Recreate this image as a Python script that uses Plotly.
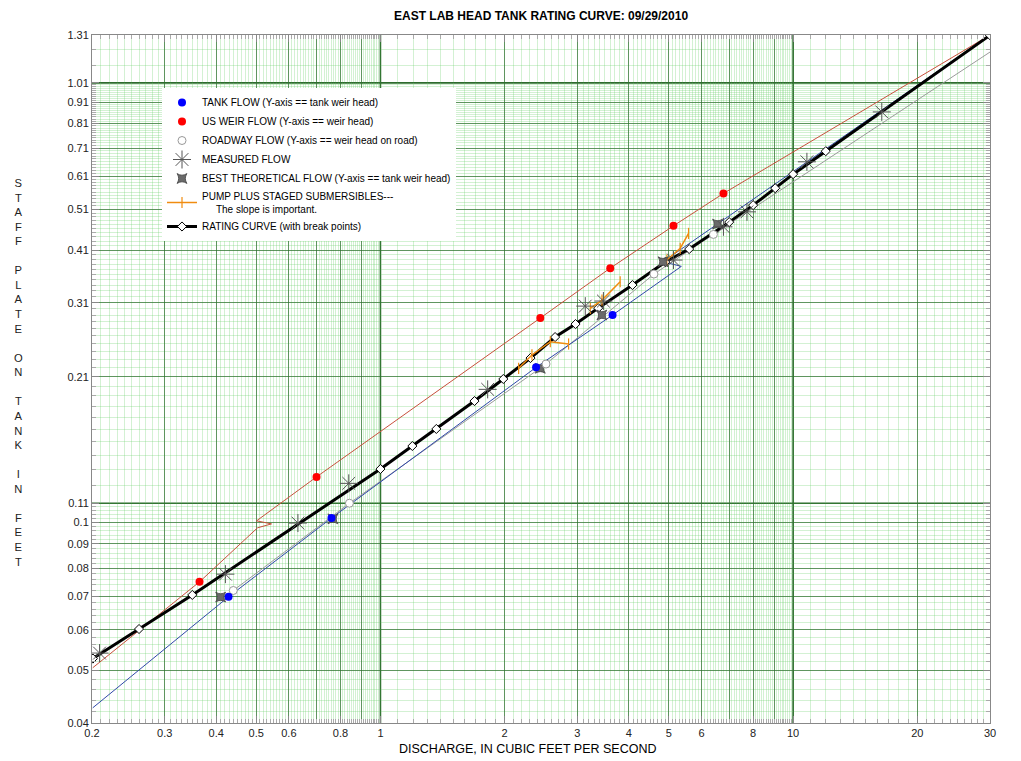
import numpy as np
import plotly.graph_objects as go

# Staff plate reading = head on weir + 0.01 ft (the y axis is log of head)
STAFF_OFFSET = 0.01

# ---------------- data (x: discharge cfs, y: staff plate ft) ----------------
rating_q = [0.201, 0.26, 0.35, 1.0, 1.195, 1.366, 1.69, 1.985, 2.31, 2.65, 2.97,
            3.37, 4.08, 4.9, 5.6, 7.0, 8.0, 9.05, 10.0, 12.0, 30.0]
rating_stage = [0.0527, 0.0602, 0.0705, 0.1306, 0.1468, 0.1602, 0.185, 0.2075,
                0.2315, 0.2585, 0.2768, 0.3012, 0.3404, 0.3848, 0.4124, 0.4764,
                0.5219, 0.5717, 0.6166, 0.698, 1.308]

tank_q = [0.4285, 0.761, 2.383, 3.652]
tank_stage = [0.0699, 0.1022, 0.2205, 0.2904]
tank_line_q = [0.2008, 0.4285, 0.761, 2.383, 3.652, 5.36, 4.84, 6.56, 30.0]
tank_line_stage = [0.0426, 0.0699, 0.1022, 0.2205, 0.2904, 0.376, 0.3854, 0.4714, 1.31]

weir_q = [0.3644, 0.70, 2.44, 3.605, 5.13, 6.78]
weir_stage = [0.075, 0.1255, 0.2858, 0.3725, 0.467, 0.5558]
weir_line_q = [0.2008, 0.3644, 0.5037, 0.5445, 0.501, 0.70, 2.44, 3.605, 5.13, 6.78, 30.0]
weir_line_stage = [0.0506, 0.075, 0.0974, 0.0993, 0.1008, 0.1255, 0.2858, 0.3725,
                   0.467, 0.5558, 1.31]

road_q = [0.44, 0.841, 2.519, 4.60, 6.41]
road_stage = [0.072, 0.11, 0.2244, 0.3609, 0.446]
road_line_q = [0.44, 0.841, 2.519, 4.60, 6.41, 30.0]
road_line_stage = [0.072, 0.11, 0.2244, 0.3609, 0.446, 1.194]

meas_q = [0.2086, 0.421, 0.631, 0.838, 1.819, 3.136, 3.47, 5.13, 6.78, 7.73, 10.8, 16.4]
meas_stage = [0.054, 0.0778, 0.0997, 0.1215, 0.1966, 0.3044, 0.3127, 0.3889, 0.4646,
              0.5034, 0.659, 0.863]

best_q = [0.41, 0.767, 2.44, 3.44, 4.84, 6.56]
best_stage = [0.0698, 0.1018, 0.2194, 0.2904, 0.3854, 0.4714]

pump_q = [2.162, 2.329, 2.580, 2.857, None, 3.225, 3.442, 3.81, None, 4.944, 5.326, 5.58]
pump_stage = [0.2194, 0.2353, 0.2522, 0.2492, None, 0.3008, 0.3143, 0.3464, None,
              0.3889, 0.414, 0.4484]

x_tick_vals = [0.2, 0.3, 0.4, 0.5, 0.6, 0.7, 0.8, 0.9, 1, 2, 3, 4, 5, 6, 7, 8, 9, 10, 20, 30]
x_tick_text = ["0.2", "0.3", "0.4", "0.5", "0.6", "", "0.8", "", "1", "2", "3", "4", "5",
               "6", "", "8", "", "10", "20", "30"]
y_tick_head = [0.03, 0.04, 0.05, 0.06, 0.07, 0.08, 0.09, 0.1, 0.2, 0.3, 0.4, 0.5, 0.6,
               0.7, 0.8, 0.9, 1.0, 1.3]
y_tick_text = ["0.04", "0.05", "0.06", "0.07", "0.08", "0.09", "0.1", "0.11", "0.21",
               "0.31", "0.41", "0.51", "0.61", "0.71", "0.81", "0.91", "1.01", "1.31"]


def head(vals):
    return [None if v is None else v - STAFF_OFFSET for v in vals]


# minor grid (graph-paper look)
minor_x = list(np.round(np.arange(0.2, 1.0, 0.01), 4)) + \
    list(np.round(np.arange(1.0, 10.0, 0.1), 3)) + list(np.arange(10.0, 30.5, 1.0))
minor_y = list(np.round(np.arange(0.03, 0.1, 0.002), 4)) + \
    list(np.round(np.arange(0.1, 1.0, 0.01), 4)) + [1.1, 1.2, 1.3]

FONT = "Arial, Liberation Sans, sans-serif"
MINOR_GRID = "rgba(110,210,110,0.30)"
MAJOR_GRID = "rgba(45,110,45,0.70)"

# page body has an 8 px margin: offsets below compensate
OFF = 8
PLOT_L, PLOT_T, PLOT_W, PLOT_H = 92, 35, 898, 688
FIG_W, FIG_H = 1005, 748

fig = go.Figure()

# connecting lines (not in legend)
fig.add_trace(go.Scatter(x=weir_line_q, y=head(weir_line_stage), mode="lines",
                         line=dict(color="#c8503c", width=1), showlegend=False,
                         hoverinfo="skip"))
fig.add_trace(go.Scatter(x=road_line_q, y=head(road_line_stage), mode="lines",
                         line=dict(color="#9a9a9a", width=1), showlegend=False,
                         hoverinfo="skip"))
fig.add_trace(go.Scatter(x=tank_line_q, y=head(tank_line_stage), mode="lines",
                         line=dict(color="#3048a8", width=1), showlegend=False,
                         hoverinfo="skip"))

fig.add_trace(go.Scatter(
    x=rating_q, y=head(rating_stage), mode="lines+markers",
    name="RATING CURVE (with break points)", legendrank=7,
    line=dict(color="black", width=3),
    marker=dict(symbol="diamond", size=7, color="white", line=dict(color="black", width=1))))

fig.add_trace(go.Scatter(
    x=pump_q, y=head(pump_stage), mode="lines+markers", connectgaps=False,
    name="PUMP PLUS STAGED SUBMERSIBLES---<br>&nbsp;&nbsp;&nbsp;&nbsp;&nbsp;The slope is important.",
    legendrank=6,
    line=dict(color="#f08c10", width=1.5),
    marker=dict(symbol="line-ns-open", size=8, line=dict(color="#f08c10", width=1.2))))

fig.add_trace(go.Scatter(
    x=best_q, y=head(best_stage), mode="markers",
    name="BEST THEORETICAL FLOW (Y-axis == tank weir head)", legendrank=5,
    marker=dict(symbol="star-square", size=9, color="#6a6a6a",
                line=dict(color="#444", width=0.8))))

fig.add_trace(go.Scatter(
    x=meas_q, y=head(meas_stage), mode="markers", name="MEASURED FLOW", legendrank=4,
    marker=dict(symbol="asterisk-open", size=15, color="#555",
                line=dict(color="#555", width=1))))

fig.add_trace(go.Scatter(
    x=road_q, y=head(road_stage), mode="markers",
    name="ROADWAY FLOW (Y-axis == weir head on road)", legendrank=3,
    marker=dict(symbol="circle", size=8, color="white", line=dict(color="#999", width=1))))

fig.add_trace(go.Scatter(
    x=weir_q, y=head(weir_stage), mode="markers",
    name="US WEIR FLOW (Y-axis == weir head)", legendrank=2,
    marker=dict(symbol="circle", size=8, color="#ff0000")))

fig.add_trace(go.Scatter(
    x=tank_q, y=head(tank_stage), mode="markers",
    name="TANK FLOW (Y-axis == tank weir head)", legendrank=1,
    marker=dict(symbol="circle", size=8, color="#0000ff")))

# heavy decade lines
shapes = []
for xv in [1, 10]:
    shapes.append(dict(type="line", xref="x", yref="paper", x0=xv, x1=xv, y0=0, y1=1,
                       line=dict(color="#2c6a2c", width=1.6), layer="between"))
for hv in [0.1, 1.0]:
    shapes.append(dict(type="line", xref="paper", yref="y", x0=0, x1=1, y0=hv, y1=hv,
                       line=dict(color="#2c6a2c", width=1.6), layer="between"))

yaxis_common = dict(type="log", range=[np.log10(0.03), np.log10(1.3)],
                    tickmode="array", tickvals=y_tick_head, ticktext=y_tick_text,
                    tickfont=dict(size=11, color="#222", family=FONT))


def px_x(px):
    return (px - PLOT_L) / PLOT_W


def px_y(py):
    return (PLOT_T + PLOT_H - py) / PLOT_H


fig.update_layout(
    width=FIG_W, height=FIG_H,
    margin=dict(l=PLOT_L - OFF, r=FIG_W - (PLOT_L - OFF) - PLOT_W, t=PLOT_T - OFF,
                b=FIG_H - (PLOT_T - OFF) - PLOT_H, autoexpand=False),
    paper_bgcolor="white", plot_bgcolor="white",
    font=dict(family=FONT, color="black"),
    shapes=shapes,
    xaxis=dict(type="log", range=[np.log10(0.2), np.log10(30)],
               tickmode="array", tickvals=x_tick_vals, ticktext=x_tick_text,
               tickfont=dict(size=11, color="#222", family=FONT),
               showgrid=True, gridcolor=MAJOR_GRID, gridwidth=1,
               ticks="inside", ticklen=7, tickcolor="#888", mirror="ticks",
               showline=True, linecolor="#888", linewidth=1, zeroline=False,
               minor=dict(tickmode="array", tickvals=minor_x, showgrid=True,
                          gridcolor=MINOR_GRID, gridwidth=1, ticks="inside",
                          ticklen=4, tickcolor="#aaa")),
    yaxis=dict(**yaxis_common, showgrid=True, gridcolor=MAJOR_GRID, gridwidth=1,
               ticks="inside", ticklen=7, tickcolor="#888", mirror="ticks",
               showline=True, linecolor="#888", linewidth=1, zeroline=False,
               minor=dict(tickmode="array", tickvals=minor_y, showgrid=True,
                          gridcolor=MINOR_GRID, gridwidth=1, ticks="inside",
                          ticklen=4, tickcolor="#aaa")),
    yaxis2=dict(**yaxis_common, overlaying="y", side="right", anchor="x",
                showgrid=False, ticks="", showline=False, zeroline=False),
    legend=dict(x=px_x(162), y=px_y(88), xanchor="left", yanchor="top",
                bgcolor="white", borderwidth=0, tracegroupgap=0,
                font=dict(size=10, family=FONT, color="black")),
    annotations=[
        dict(text="<b>EAST LAB HEAD TANK RATING CURVE: 09/29/2010</b>", xref="paper",
             yref="paper", x=px_x(541), y=px_y(16), xanchor="center", yanchor="middle",
             showarrow=False, font=dict(size=12, family=FONT)),
        dict(text="DISCHARGE, IN CUBIC FEET PER SECOND", xref="paper", yref="paper",
             x=px_x(527), y=px_y(749), xanchor="center", yanchor="middle",
             showarrow=False, font=dict(size=12.5, family=FONT)),
        dict(text="<br>".join(list("STAFF") + [""] + list("PLATE") + [""] + list("ON") +
                              [""] + list("TANK") + [""] + list("IN") + [""] + list("FEET")),
             xref="paper", yref="paper", x=px_x(18), y=px_y(372),
             xanchor="center", yanchor="middle", showarrow=False, align="center",
             font=dict(size=11.2, family=FONT, color="#222")),
    ],
)

fig.write_html("out.html")
